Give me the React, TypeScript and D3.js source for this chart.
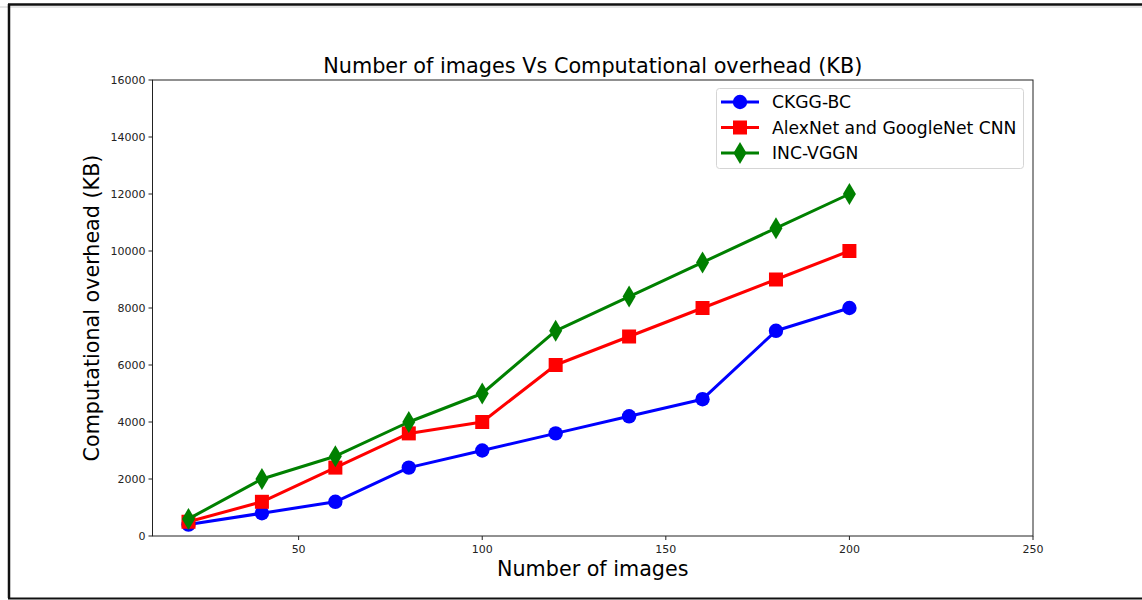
import React from "react";
import * as d3 from "d3";

const xValues = [20, 40, 60, 80, 100, 120, 140, 160, 180, 200];
const ckggBC = [400, 800, 1200, 2400, 3000, 3600, 4200, 4800, 7200, 8000];
const alexGoogle = [500, 1200, 2400, 3600, 4000, 6000, 7000, 8000, 9000, 10000];
const incVGGN = [600, 2000, 2800, 4000, 5000, 7200, 8400, 9600, 10800, 12000];
const seriesNames = ["CKGG-BC", "AlexNet and GoogleNet CNN", "INC-VGGN"];
const seriesColors = ["#0000ff", "#ff0000", "#008000"];
const xTicks = [50, 100, 150, 200, 250];
const yTicks = [0, 2000, 4000, 6000, 8000, 10000, 12000, 14000, 16000];

const W = 1142, H = 600;
const left = 152.5, right = 1033, top = 80, bottom = 536;
const FONT = "DejaVu Sans, sans-serif";

function Marker({ kind, x, y, color }: { kind: number; x: number; y: number; color: string }) {
  if (kind === 0) return <circle cx={x} cy={y} r={7.2} fill={color} />;
  if (kind === 1) return <rect x={x - 7} y={y - 7} width={14} height={14} fill={color} />;
  const p = `${x},${y - 11} ${x + 6.5},${y} ${x},${y + 11} ${x - 6.5},${y}`;
  return <polygon points={p} fill={color} />;
}

export default function App() {
  const xs = d3.scaleLinear().domain([10.2, 250]).range([left, right]);
  const ys = d3.scaleLinear().domain([0, 16000]).range([bottom, top]);
  const data = [ckggBC, alexGoogle, incVGGN];
  const line = d3.line<[number, number]>().x(d => xs(d[0])).y(d => ys(d[1]));

  return (
    <svg width={W} height={H} style={{ position: "fixed", left: 0, top: 0, background: "#fff" }} fontFamily={FONT}>
      <rect x={0} y={0} width={W} height={H} fill="#fff" />
      <line x1={0} x2={W} y1={7} y2={7} stroke="#e6e6e6" strokeWidth={2} />
      <line x1={9} x2={9} y1={4} y2={598} stroke="#111" strokeWidth={2.5} />
      <line x1={8} x2={W} y1={4.5} y2={4.5} stroke="#111" strokeWidth={2.5} />
      <line x1={8} x2={W} y1={598.5} y2={598.5} stroke="#111" strokeWidth={2} />

      <text x={(left + right) / 2} y={73} textAnchor="middle" fontSize={20.8} fill="#000">
        Number of images Vs Computational overhead (KB)
      </text>

      {data.map((vals, i) => (
        <g key={i}>
          <path d={line(xValues.map((x, j) => [x, vals[j]] as [number, number])) || ""} fill="none" stroke={seriesColors[i]} strokeWidth={3} strokeLinejoin="round" />
          {xValues.map((x, j) => (
            <Marker key={j} kind={i} x={xs(x)} y={ys(vals[j])} color={seriesColors[i]} />
          ))}
        </g>
      ))}

      <rect x={left} y={top} width={right - left} height={bottom - top} fill="none" stroke="#222" strokeWidth={1} />

      {xTicks.map(t => (
        <g key={t}>
          <line x1={xs(t)} x2={xs(t)} y1={bottom} y2={bottom + 4} stroke="#222" />
          <text x={xs(t)} y={bottom + 17} textAnchor="middle" fontSize={11} fill="#222">{t}</text>
        </g>
      ))}
      {yTicks.map(t => (
        <g key={t}>
          <line x1={left - 4} x2={left} y1={ys(t)} y2={ys(t)} stroke="#222" />
          <text x={left - 7} y={ys(t) + 4} textAnchor="end" fontSize={11} fill="#222">{t}</text>
        </g>
      ))}

      <text x={(left + right) / 2} y={576} textAnchor="middle" fontSize={20.7} fill="#000">Number of images</text>
      <text transform={`translate(99, ${(top + bottom) / 2}) rotate(-90)`} textAnchor="middle" fontSize={20.7} fill="#000">
        Computational overhead (KB)
      </text>

      <rect x={716.5} y={88.5} width={307} height={80} rx={3} fill="#fff" fillOpacity={0.8} stroke="#d5d5d5" />
      {seriesNames.map((n, i) => {
        const yy = 102 + i * 25.5;
        return (
          <g key={n}>
            <line x1={721} x2={759} y1={yy} y2={yy} stroke={seriesColors[i]} strokeWidth={3} />
            <Marker kind={i} x={740} y={yy} color={seriesColors[i]} />
            <text x={772} y={yy + 6} fontSize={17.2} fill="#000">{n}</text>
          </g>
        );
      })}
    </svg>
  );
}
